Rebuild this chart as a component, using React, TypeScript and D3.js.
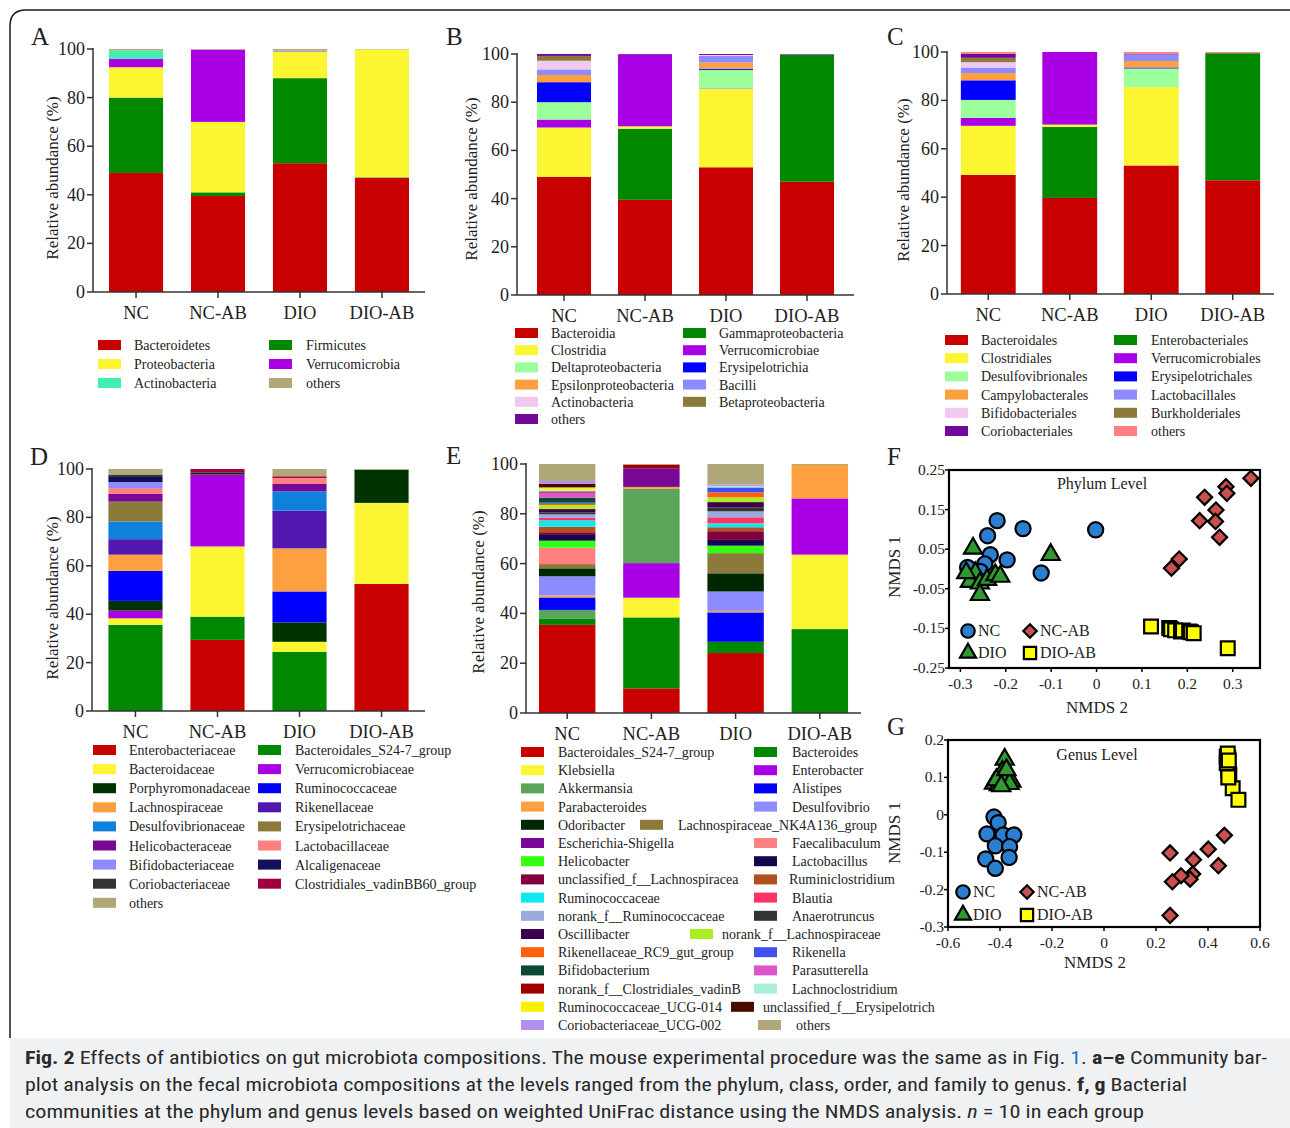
import React, { useEffect } from 'react';
import * as d3 from 'd3';

const SERIF = '"Times New Roman", "Liberation Serif", serif';

const groups = ['NC', 'NC-AB', 'DIO', 'DIO-AB'];

// A - phylum level
const phylumTaxa = ['Bacteroidetes', 'Firmicutes', 'Proteobacteria', 'Verrucomicrobia', 'Actinobacteria', 'others'];
const phylumColors = ['#c80000', '#008800', '#fcf532', '#aa00e6', '#40f0b0', '#b0a878'];
const phylumValues = [
  [49, 31, 12.5, 3.5, 3.3, 0.7],
  [39.5, 1.5, 29, 29.7, 0, 0.3],
  [53, 35, 11, 0.2, 0.2, 0.6],
  [47, 0.2, 52.6, 0, 0, 0.2],
];
const phylumLegendLeft = ['Bacteroidetes', 'Proteobacteria', 'Actinobacteria'];
const phylumLegendRight = ['Firmicutes', 'Verrucomicrobia', 'others'];

// B - class level
const classTaxa = ['Bacteroidia', 'Gammaproteobacteria', 'Clostridia', 'Verrucomicrobiae', 'Deltaproteobacteria',
  'Erysipelotrichia', 'Epsilonproteobacteria', 'Bacilli', 'Actinobacteria', 'Betaproteobacteria', 'others'];
const classColors = ['#c80000', '#008800', '#fcf532', '#aa00e6', '#9cff9c', '#0000ff', '#ffa040', '#8c8cff', '#f0c8f0', '#8b7a3a', '#70089a'];
const classValues = [
  [49, 0, 20.5, 3.3, 7.2, 8.3, 3, 2.3, 3.6, 2, 0.8],
  [39.5, 29.5, 1, 29.7, 0, 0, 0, 0, 0, 0, 0.3],
  [53, 0, 32.5, 0.2, 7.7, 0.5, 2.6, 2.7, 0.4, 0, 0.4],
  [47, 52.7, 0, 0.2, 0, 0, 0, 0, 0, 0, 0.1],
];
const classLegendLeft = ['Bacteroidia', 'Clostridia', 'Deltaproteobacteria', 'Epsilonproteobacteria', 'Actinobacteria', 'others'];
const classLegendRight = ['Gammaproteobacteria', 'Verrucomicrobiae', 'Erysipelotrichia', 'Bacilli', 'Betaproteobacteria'];

// C - order level
const orderTaxa = ['Bacteroidales', 'Enterobacteriales', 'Clostridiales', 'Verrucomicrobiales', 'Desulfovibrionales',
  'Erysipelotrichales', 'Campylobacterales', 'Lactobacillales', 'Bifidobacteriales', 'Burkholderiales', 'Coriobacteriales', 'others'];
const orderColors = ['#c80000', '#008800', '#fcf532', '#aa00e6', '#9cff9c', '#0000ff', '#ffa040', '#8c8cff', '#f0c8f0', '#8b7a3a', '#70089a', '#ff8080'];
const orderValues = [
  [49.2, 0, 20.3, 3.3, 7.4, 8.1, 3, 2.3, 2.2, 1.8, 1.6, 0.8],
  [39.7, 29.3, 1, 30, 0, 0, 0, 0, 0, 0, 0, 0],
  [53.1, 0, 32.4, 0, 7.7, 0.4, 2.7, 2.7, 0, 0, 0.2, 0.8],
  [47, 52.5, 0, 0, 0, 0, 0, 0, 0, 0, 0, 0.5],
];
const orderLegendLeft = ['Bacteroidales', 'Clostridiales', 'Desulfovibrionales', 'Campylobacterales', 'Bifidobacteriales', 'Coriobacteriales'];
const orderLegendRight = ['Enterobacteriales', 'Verrucomicrobiales', 'Erysipelotrichales', 'Lactobacillales', 'Burkholderiales', 'others'];

// D - family level
const familyTaxa = ['Enterobacteriaceae', 'Bacteroidales_S24-7_group', 'Bacteroidaceae', 'Verrucomicrobiaceae', 'Porphyromonadaceae',
  'Ruminococcaceae', 'Lachnospiraceae', 'Rikenellaceae', 'Desulfovibrionaceae', 'Erysipelotrichaceae', 'Helicobacteraceae',
  'Lactobacillaceae', 'Bifidobacteriaceae', 'Alcaligenaceae', 'Coriobacteriaceae', 'Clostridiales_vadinBB60_group', 'others'];
const familyColors = ['#c80000', '#008800', '#fcf532', '#aa00e6', '#003300', '#0000ff', '#ffa040', '#5018b0', '#1080dd',
  '#8b7a3a', '#7a0896', '#ff8080', '#8c8cff', '#12105a', '#333333', '#a00040', '#b0a878'];
const familyValues = [
  [0, 35.6, 2.7, 3.2, 4, 12.4, 6.7, 6.4, 7.3, 8.2, 3.2, 2.4, 2.5, 2.1, 1, 0, 2.3],
  [29.4, 9.6, 29, 29.7, 0.9, 0, 0, 0, 0, 0, 0, 0, 0, 0, 0, 1.4, 0],
  [0, 24.4, 4.2, 0, 8, 12.8, 17.8, 15.6, 8, 0, 3, 2.5, 0, 0, 0, 0.7, 3],
  [52.5, 0, 33.5, 0, 13.7, 0, 0, 0, 0, 0, 0, 0, 0, 0, 0, 0, 0.3],
];
const familyLegendLeft = ['Enterobacteriaceae', 'Bacteroidaceae', 'Porphyromonadaceae', 'Lachnospiraceae', 'Desulfovibrionaceae',
  'Helicobacteraceae', 'Bifidobacteriaceae', 'Coriobacteriaceae', 'others'];
const familyLegendRight = ['Bacteroidales_S24-7_group', 'Verrucomicrobiaceae', 'Ruminococcaceae', 'Rikenellaceae',
  'Erysipelotrichaceae', 'Lactobacillaceae', 'Alcaligenaceae', 'Clostridiales_vadinBB60_group'];

// E - genus level
const genusTaxa = ['Bacteroidales_S24-7_group', 'Bacteroides', 'Klebsiella', 'Enterobacter', 'Akkermansia', 'Alistipes',
  'Parabacteroides', 'Desulfovibrio', 'Odoribacter', 'Lachnospiraceae_NK4A136_group', 'Escherichia-Shigella', 'Faecalibaculum',
  'Helicobacter', 'Lactobacillus', 'unclassified_f__Lachnospiracea', 'Ruminiclostridium', 'Ruminococcaceae', 'Blautia',
  'norank_f__Ruminococcaceae', 'Anaerotruncus', 'Oscillibacter', 'norank_f__Lachnospiraceae', 'Rikenellaceae_RC9_gut_group',
  'Rikenella', 'Bifidobacterium', 'Parasutterella', 'norank_f__Clostridiales_vadinB', 'Lachnoclostridium',
  'Ruminococcaceae_UCG-014', 'unclassified_f__Erysipelotrich', 'Coriobacteriaceae_UCG-002', 'others'];
const genusColors = ['#c80000', '#008800', '#fcf532', '#aa00e6', '#5aa55a', '#0000ff', '#ffa040', '#8c8cff', '#002800',
  '#8b7a3a', '#7a0896', '#ff8080', '#33ff11', '#12084f', '#800040', '#b05020', '#10e8f0', '#ff3366', '#99aadd', '#333333',
  '#3c0050', '#aaee22', '#ff6010', '#4050ee', '#0b4a30', '#dd55cc', '#a00000', '#aaf0d8', '#f8f000', '#4a0a00', '#b090e8', '#b0a878'];
const genusValues = [
  [35.4, 2.4, 0, 0, 3.6, 5, 0.8, 7.7, 3.2, 1.7, 0, 6.6, 2.8, 2.3, 1.1, 2.2, 2.6, 1, 1.4, 0.7, 1.4, 1.6, 0.5, 0.5, 2, 2, 0.5, 0.7, 0.9, 1.5, 1.1, 6.8],
  [9.9, 28.5, 7.9, 13.9, 29.8, 0, 0.8, 0, 0, 0, 7.5, 0, 0, 0, 0, 0, 0, 0, 0, 0, 0, 0, 0, 0, 0, 0, 1.3, 0, 0, 0, 0, 0.4],
  [24.1, 4.5, 0, 0, 0, 11.8, 0.6, 7.8, 7.3, 8.1, 0, 0, 3, 2.3, 3.5, 1.6, 1.6, 2.4, 2.4, 1.5, 2.2, 1.9, 2, 2, 0, 0, 0, 0.6, 0, 0, 0.6, 8.2],
  [0, 33.7, 29.9, 22.6, 0, 0, 13.4, 0, 0, 0, 0, 0, 0, 0, 0, 0, 0, 0, 0, 0, 0, 0, 0, 0, 0, 0, 0, 0, 0, 0, 0, 0.4],
];
const genusLegendLeft = ['Bacteroidales_S24-7_group', 'Klebsiella', 'Akkermansia', 'Parabacteroides', 'Odoribacter',
  'Escherichia-Shigella', 'Helicobacter', 'unclassified_f__Lachnospiracea', 'Ruminococcaceae', 'norank_f__Ruminococcaceae',
  'Oscillibacter', 'Rikenellaceae_RC9_gut_group', 'Bifidobacterium', 'norank_f__Clostridiales_vadinB',
  'Ruminococcaceae_UCG-014', 'Coriobacteriaceae_UCG-002'];
const genusLegendRight = ['Bacteroides', 'Enterobacter', 'Alistipes', 'Desulfovibrio', 'Lachnospiraceae_NK4A136_group',
  'Faecalibaculum', 'Lactobacillus', 'Ruminiclostridium', 'Blautia', 'Anaerotruncus', 'norank_f__Lachnospiraceae',
  'Rikenella', 'Parasutterella', 'Lachnoclostridium', 'unclassified_f__Erysipelotrich', 'others'];

// F - NMDS phylum level [NMDS2, NMDS1]
const phylumNC = [[-0.219, 0.122], [-0.24, 0.084], [-0.162, 0.102], [-0.002, 0.099], [-0.234, 0.036],
  [-0.197, 0.023], [-0.284, 0.004], [-0.246, 0.013], [-0.122, -0.01], [-0.256, -0.006]];
const phylumDIO = [[-0.272, 0.052], [-0.101, 0.036], [-0.267, -0.01], [-0.279, -0.032], [-0.257, -0.036],
  [-0.241, -0.027], [-0.223, -0.015], [-0.212, -0.019], [-0.257, -0.065], [-0.287, -0.01]];
const phylumNCAB = [[0.34, 0.229], [0.285, 0.208], [0.287, 0.191], [0.238, 0.181], [0.263, 0.149],
  [0.227, 0.122], [0.262, 0.12], [0.271, 0.08], [0.182, 0.025], [0.165, 0.002]];
const phylumDIOAB = [[0.12, -0.145], [0.16, -0.149], [0.164, -0.152], [0.173, -0.155], [0.186, -0.158],
  [0.19, -0.155], [0.204, -0.158], [0.208, -0.16], [0.214, -0.162], [0.289, -0.2]];

// G - NMDS genus level
const genusNC = [[-0.423, -0.006], [-0.407, -0.021], [-0.45, -0.051], [-0.388, -0.054], [-0.347, -0.054],
  [-0.418, -0.083], [-0.363, -0.085], [-0.455, -0.118], [-0.365, -0.114], [-0.418, -0.143]];
const genusDIO = [[-0.382, 0.148], [-0.391, 0.115], [-0.369, 0.102], [-0.356, 0.089], [-0.423, 0.084],
  [-0.404, 0.08], [-0.363, 0.083], [-0.414, 0.093], [-0.375, 0.12], [-0.395, 0.077]];
const genusNCAB = [[0.463, -0.055], [0.401, -0.092], [0.344, -0.12], [0.254, -0.102], [0.44, -0.136],
  [0.341, -0.158], [0.331, -0.172], [0.296, -0.163], [0.263, -0.179], [0.254, -0.269]];
const genusDIOAB = [[0.472, 0.155], [0.478, 0.151], [0.478, 0.12], [0.482, 0.107], [0.495, 0.071],
  [0.517, 0.04], [0.472, 0.138], [0.476, 0.164], [0.48, 0.145], [0.478, 0.1]];

const groupStyles = [
  { name: 'NC', shape: 'circle', fill: '#2a7fd0' },
  { name: 'NC-AB', shape: 'diamond', fill: '#c8504d' },
  { name: 'DIO', shape: 'triangle', fill: '#2e9a30' },
  { name: 'DIO-AB', shape: 'square', fill: '#ffff00' },
];

function BarPanel({ cfg }: { cfg: any }) {
  const x = d3.scaleBand().domain(groups).range(cfg.xRange).paddingInner(cfg.padIn).paddingOuter(cfg.padOut);
  const y = d3.scaleLinear().domain([0, 100]).range(cfg.yRange);
  const rows = cfg.values.map((r: number[], gi: number) => {
    const o: any = { group: groups[gi] };
    cfg.taxa.forEach((t: string, i: number) => (o[t] = r[i]));
    return o;
  });
  const series = d3.stack<any>().keys(cfg.taxa)(rows);
  const color = d3.scaleOrdinal<string, string>().domain(cfg.taxa).range(cfg.colors);
  const ax = cfg.xRange[0];
  const lg = cfg.legend;
  const legendItem = (name: string, i: number, sw: number, tx: number) => {
    const o = (lg.over && lg.over[name]) || {};
    const cy = lg.y0 + i * lg.step;
    return (
      <g key={name}>
        <rect x={o.sw ?? sw} y={cy - 5} width={23} height={10} fill={color(name)} />
        <text x={o.tx ?? tx} y={cy + 5} fontSize={14}>{name}</text>
      </g>
    );
  };
  return (
    <g fontFamily={SERIF} fill="#222">
      <text x={cfg.letter[1]} y={cfg.letter[2]} fontSize={25}>{cfg.letter[0]}</text>
      {series.map((s) => (
        <g key={s.key} fill={color(s.key)}>
          {s.map((d) => d[1] - d[0] > 0 ? (
            <rect key={d.data.group} x={x(d.data.group)} y={y(d[1])} width={x.bandwidth()} height={y(d[0]) - y(d[1])} />
          ) : null)}
        </g>
      ))}
      <line x1={ax} x2={ax} y1={y(0)} y2={y(100) - 1} stroke="#333" strokeWidth={1.5} />
      <line x1={ax} x2={cfg.xRange[1]} y1={y(0)} y2={y(0)} stroke="#333" strokeWidth={1.5} />
      {y.ticks(5).map((t) => (
        <g key={t}>
          <line x1={ax - 6} x2={ax} y1={y(t)} y2={y(t)} stroke="#333" strokeWidth={1.5} />
          <text x={ax - 8} y={y(t) + 6} textAnchor="end" fontSize={18}>{t}</text>
        </g>
      ))}
      {groups.map((g) => {
        const cx = (x(g) as number) + x.bandwidth() / 2;
        return (
          <g key={g}>
            <line x1={cx} x2={cx} y1={y(0)} y2={y(0) + 6} stroke="#333" strokeWidth={1.5} />
            <text x={cx} y={y(0) + 27} textAnchor="middle" fontSize={18.5}>{g}</text>
          </g>
        );
      })}
      <text transform={`translate(${cfg.yTitle[0]},${cfg.yTitle[1]}) rotate(-90)`} textAnchor="middle" fontSize={17}>
        Relative abundance (%)
      </text>
      {lg.left.map((n: string, i: number) => legendItem(n, i, lg.sw1, lg.tx1))}
      {lg.right.map((n: string, i: number) => legendItem(n, i, lg.sw2, lg.tx2))}
    </g>
  );
}

function marker(shape: string, size: number) {
  if (shape === 'circle') return d3.symbol().type(d3.symbolCircle).size(size * 0.95)() as string;
  if (shape === 'triangle') return d3.symbol().type(d3.symbolTriangle).size(size * 0.75)() as string;
  if (shape === 'diamond') return d3.symbol().type(d3.symbolSquare).size(size * 0.6)() as string;
  return d3.symbol().type(d3.symbolSquare).size(size)() as string;
}

function ScatterPanel({ cfg }: { cfg: any }) {
  const x = d3.scaleLinear().domain(cfg.xDomain).range([cfg.box[0], cfg.box[2]]);
  const y = d3.scaleLinear().domain(cfg.yDomain).range([cfg.box[3], cfg.box[1]]);
  const order = [0, 2, 1, 3];
  const sym = (shape: string, px: number, py: number, key: any, sz = 190) => (
    <path key={key} d={marker(shape, sz)} transform={`translate(${px},${py})${shape === 'diamond' ? ' rotate(45)' : ''}`}
      fill={groupStyles.find((g) => g.shape === shape)!.fill} stroke="#000" strokeWidth={2.2} />
  );
  return (
    <g fontFamily={SERIF} fill="#222">
      <text x={cfg.letter[1]} y={cfg.letter[2]} fontSize={25}>{cfg.letter[0]}</text>
      <rect x={cfg.box[0]} y={cfg.box[1]} width={cfg.box[2] - cfg.box[0]} height={cfg.box[3] - cfg.box[1]}
        fill="none" stroke="#000" strokeWidth={2.2} />
      {cfg.yTicks.map((t: number, i: number) => (
        <g key={'y' + i}>
          <line x1={cfg.box[0] - 4} x2={cfg.box[0]} y1={y(t)} y2={y(t)} stroke="#000" strokeWidth={1.5} />
          <text x={cfg.box[0] - 4} y={y(t) + 5} textAnchor="end" fontSize={15.5}>{cfg.yLabels[i]}</text>
        </g>
      ))}
      {cfg.xTicks.map((t: number, i: number) => (
        <g key={'x' + i}>
          <line x1={x(t)} x2={x(t)} y1={cfg.box[3]} y2={cfg.box[3] + 4} stroke="#000" strokeWidth={1.5} />
          <text x={x(t)} y={cfg.box[3] + 21} textAnchor="middle" fontSize={15.5}>{cfg.xLabels[i]}</text>
        </g>
      ))}
      <text x={cfg.title[1]} y={cfg.title[2]} textAnchor="middle" fontSize={16}>{cfg.title[0]}</text>
      <text x={cfg.xTitle[0]} y={cfg.xTitle[1]} textAnchor="middle" fontSize={17}>NMDS 2</text>
      <text transform={`translate(${cfg.yTitle[0]},${cfg.yTitle[1]}) rotate(-90)`} textAnchor="middle" fontSize={17}>NMDS 1</text>
      {order.map((gi) => (
        <g key={gi}>
          {cfg.points[gi].map((p: number[], j: number) => sym(groupStyles[gi].shape, x(p[0]), y(p[1]), j))}
        </g>
      ))}
      {groupStyles.map((g, i) => {
        const lx = cfg.legend[0] + (i % 2) * cfg.legend[2];
        const ly = cfg.legend[1] + Math.floor(i / 2) * cfg.legend[3];
        return (
          <g key={g.name}>
            {sym(g.shape, lx, ly, 'l', 150)}
            <text x={lx + 10} y={ly + 5} fontSize={16}>{g.name}</text>
          </g>
        );
      })}
    </g>
  );
}

const panelA = {
  letter: ['A', 31, 45], taxa: phylumTaxa, colors: phylumColors, values: phylumValues,
  xRange: [93, 425], padIn: 0.34, padOut: 0.195, yRange: [292, 49], yTitle: [58, 178],
  legend: { left: phylumLegendLeft, right: phylumLegendRight, sw1: 98, tx1: 134, sw2: 269, tx2: 306, y0: 345, step: 19 },
};
const panelB = {
  letter: ['B', 446, 45], taxa: classTaxa, colors: classColors, values: classValues,
  xRange: [517, 854], padIn: 0.333, padOut: 0.247, yRange: [295, 54], yTitle: [477, 179],
  legend: { left: classLegendLeft, right: classLegendRight, sw1: 515, tx1: 551, sw2: 683, tx2: 719, y0: 333, step: 17.2 },
};
const panelC = {
  letter: ['C', 887, 45], taxa: orderTaxa, colors: orderColors, values: orderValues,
  xRange: [947, 1274], padIn: 0.327, padOut: 0.17, yRange: [294, 52], yTitle: [909, 180],
  legend: { left: orderLegendLeft, right: orderLegendRight, sw1: 945, tx1: 981, sw2: 1114, tx2: 1151, y0: 340, step: 18.2 },
};
const panelD = {
  letter: ['D', 30, 465], taxa: familyTaxa, colors: familyColors, values: familyValues,
  xRange: [92, 425], padIn: 0.34, padOut: 0.2, yRange: [711, 469], yTitle: [58, 598],
  legend: { left: familyLegendLeft, right: familyLegendRight, sw1: 93, tx1: 129, sw2: 258, tx2: 295, y0: 750, step: 19.1 },
};
const panelE = {
  letter: ['E', 446, 464], taxa: genusTaxa, colors: genusColors, values: genusValues,
  xRange: [526, 861], padIn: 0.33, padOut: 0.154, yRange: [713, 464], yTitle: [484, 592],
  legend: {
    left: genusLegendLeft, right: genusLegendRight, sw1: 521, tx1: 558, sw2: 754, tx2: 792, y0: 752, step: 18.2,
    over: {
      'Lachnospiraceae_NK4A136_group': { sw: 640, tx: 678 },
      'norank_f__Lachnospiraceae': { sw: 690, tx: 722 },
      'unclassified_f__Erysipelotrich': { sw: 731, tx: 763 },
      'others': { sw: 758, tx: 796 },
      'Ruminiclostridium': { tx: 789 },
    },
  },
};
const panelF = {
  letter: ['F', 887, 465], box: [949, 470, 1260, 668], xDomain: [-0.325, 0.36], yDomain: [-0.25, 0.25],
  xTicks: [-0.3, -0.2, -0.1, 0, 0.1, 0.2, 0.3], xLabels: ['-0.3', '-0.2', '-0.1', '0', '0.1', '0.2', '0.3'],
  yTicks: [0.25, 0.15, 0.05, -0.05, -0.15, -0.25], yLabels: ['0.25', '0.15', '0.05', '-0.05', '-0.15', '-0.25'],
  title: ['Phylum  Level', 1102, 489], xTitle: [1097, 713], yTitle: [900, 567],
  points: [phylumNC, phylumNCAB, phylumDIO, phylumDIOAB], legend: [968, 631, 62, 22],
};
const panelG = {
  letter: ['G', 887, 735], box: [948, 740, 1260, 927], xDomain: [-0.6, 0.6], yDomain: [-0.3, 0.2],
  xTicks: [-0.6, -0.4, -0.2, 0, 0.2, 0.4, 0.6], xLabels: ['-0.6', '-0.4', '-0.2', '0', '0.2', '0.4', '0.6'],
  yTicks: [0.2, 0.1, 0, -0.1, -0.2, -0.3], yLabels: ['0.2', '0.1', '0', '-0.1', '-0.2', '-0.3'],
  title: ['Genus  Level', 1097, 760], xTitle: [1095, 968], yTitle: [900, 833],
  points: [genusNC, genusNCAB, genusDIO, genusDIOAB], legend: [963, 892, 64, 23],
};

export default function App() {
  useEffect(() => {
    document.body.style.margin = '0';
  }, []);
  const cap = '"Liberation Sans Narrow", "Roboto Condensed", "Open Sans", sans-serif';
  return (
    <svg width={1290} height={1128} style={{ display: 'block', background: '#fff' }}>
      <path d="M10,1038 V26 Q10,10 26,10 H1290" fill="none" stroke="#1a1a1a" strokeWidth={1.5} />
      <BarPanel cfg={panelA} />
      <BarPanel cfg={panelB} />
      <BarPanel cfg={panelC} />
      <BarPanel cfg={panelD} />
      <BarPanel cfg={panelE} />
      <ScatterPanel cfg={panelF} />
      <ScatterPanel cfg={panelG} />
      <rect x={10} y={1038} width={1280} height={90} fill="#eff1f3" />
      <g fontFamily={cap} fontSize={18} fill="#2a2a2a">
        <text x={25} y={1064} textLength={1242} lengthAdjust="spacingAndGlyphs">
          <tspan fontWeight="bold">Fig. 2</tspan> Effects of antibiotics on gut microbiota compositions. The mouse experimental procedure was the same as in Fig. <tspan fill="#1a73c8">1</tspan>. <tspan fontWeight="bold">a–e</tspan> Community bar-
        </text>
        <text x={25} y={1091} textLength={1162} lengthAdjust="spacingAndGlyphs">
          plot analysis on the fecal microbiota compositions at the levels ranged from the phylum, class, order, and family to genus. <tspan fontWeight="bold">f, g</tspan> Bacterial
        </text>
        <text x={25} y={1118} textLength={1119} lengthAdjust="spacingAndGlyphs">
          communities at the phylum and genus levels based on weighted UniFrac distance using the NMDS analysis. <tspan fontStyle="italic">n</tspan> = 10 in each group
        </text>
      </g>
    </svg>
  );
}
